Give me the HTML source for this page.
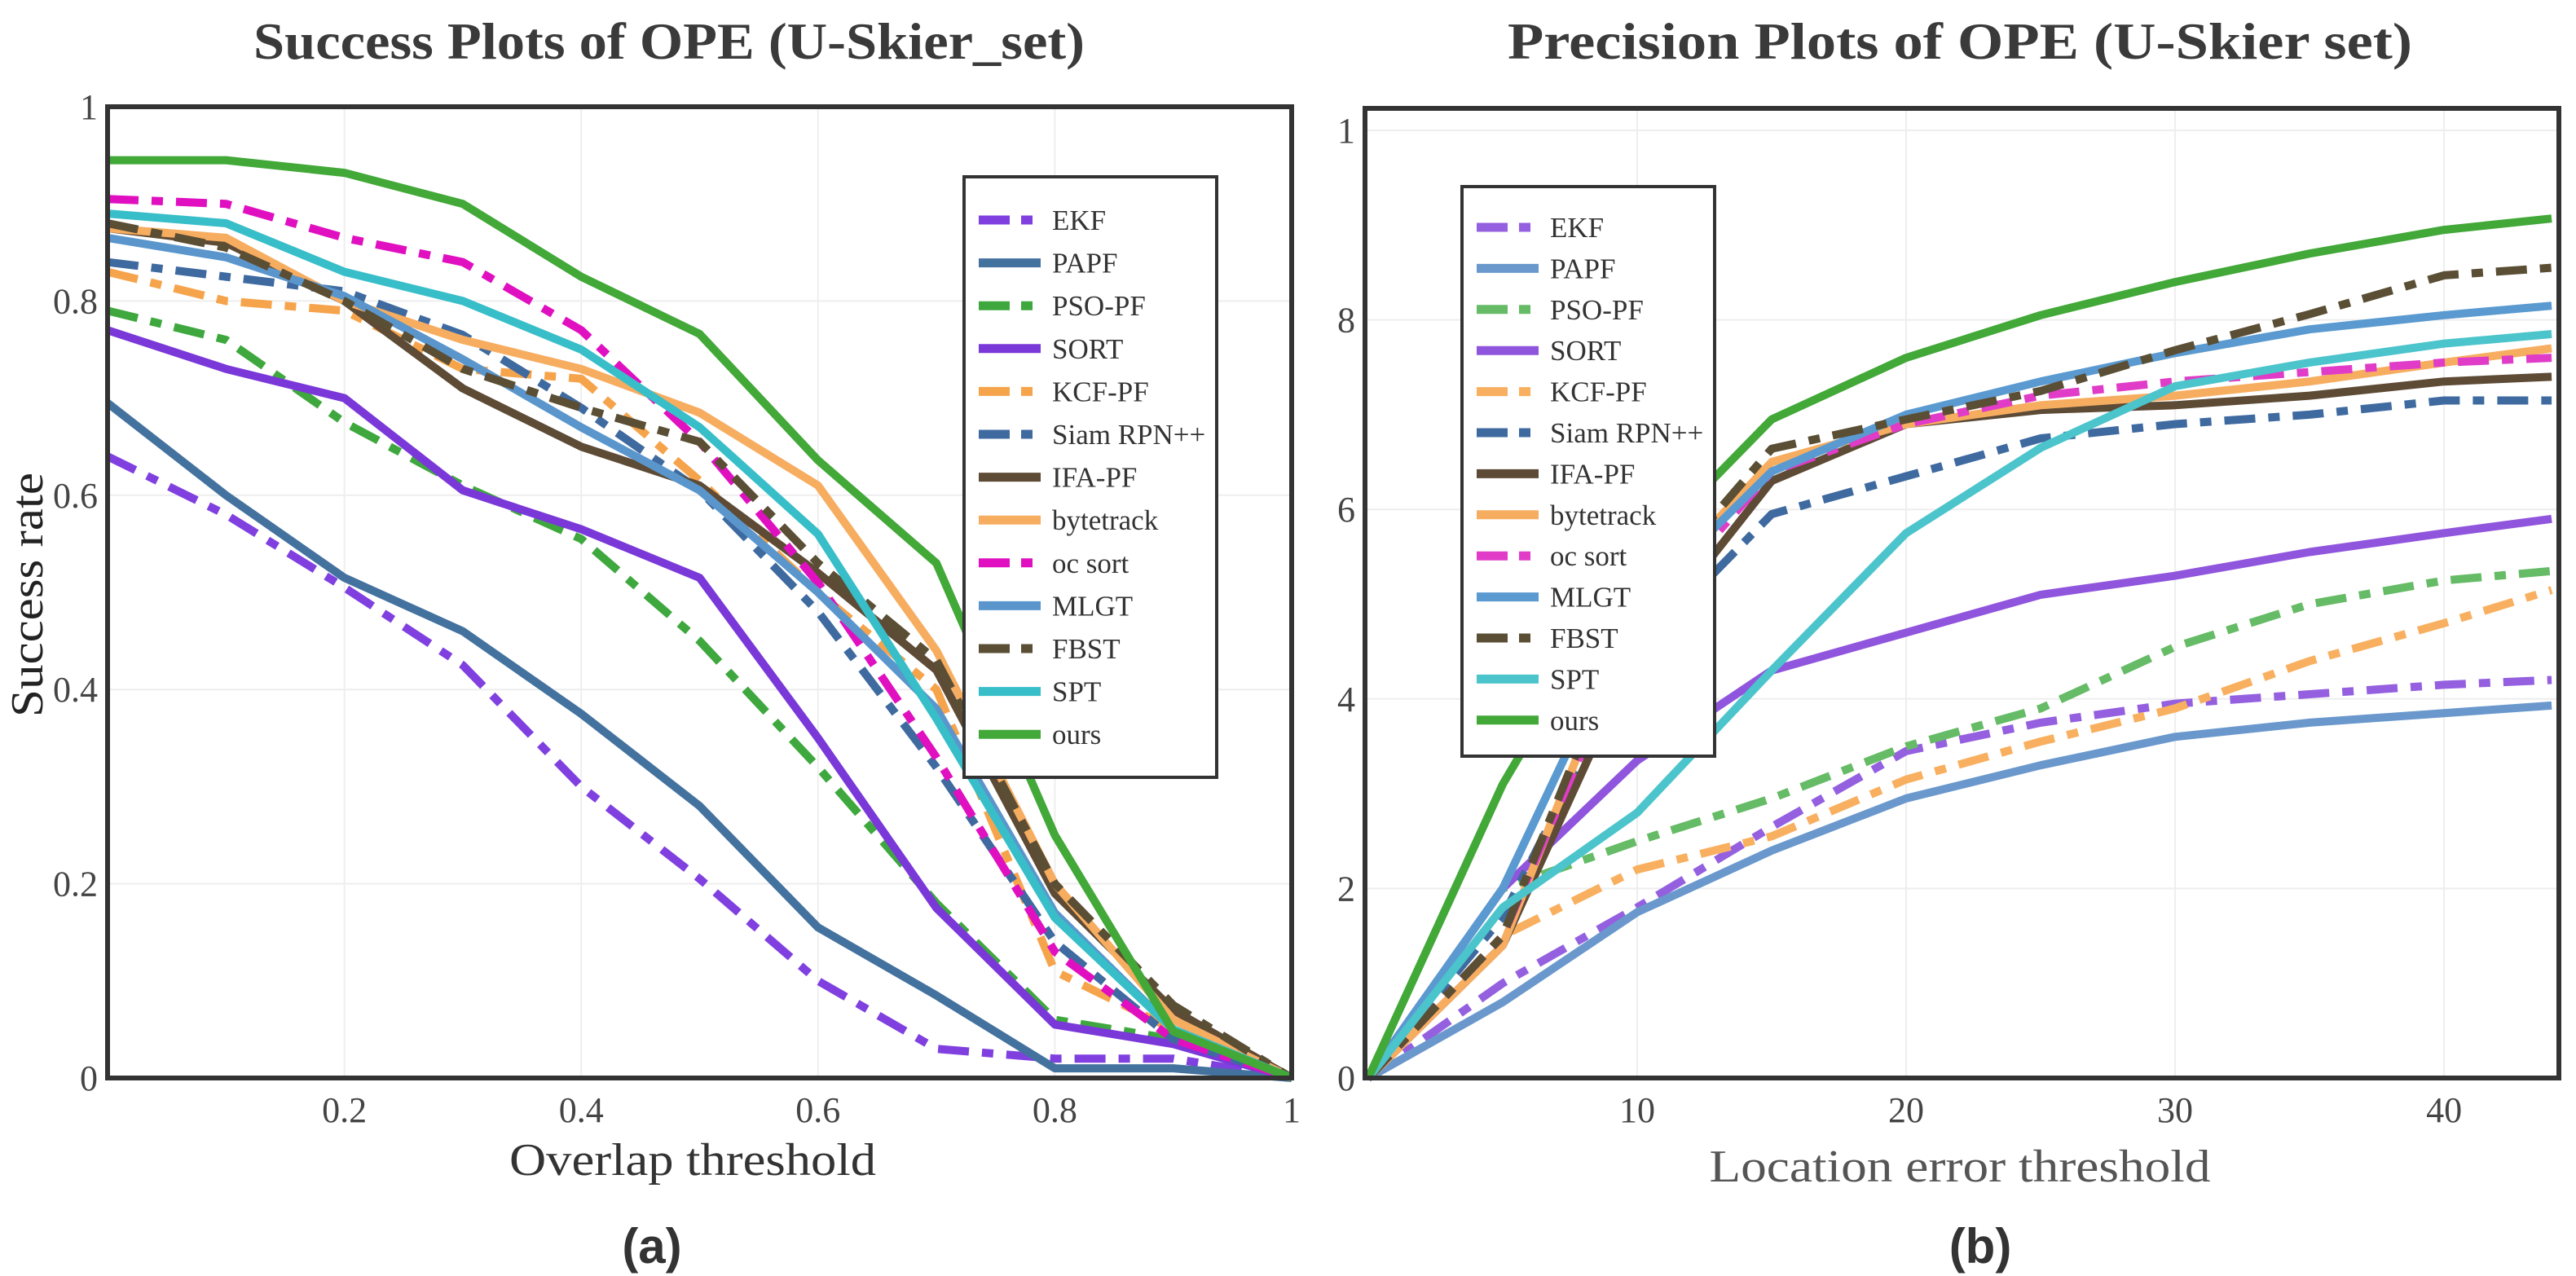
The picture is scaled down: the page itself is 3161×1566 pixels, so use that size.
<!DOCTYPE html>
<html><head><meta charset="utf-8">
<style>
html,body{margin:0;padding:0;background:#fff;}
svg{display:block;}
text{font-family:"Liberation Serif","DejaVu Serif",serif;fill:#444;}
</style></head>
<body>
<svg id="fig" width="3161" height="1566" viewBox="0 0 3161 1566" xmlns="http://www.w3.org/2000/svg">
<rect width="3161" height="1566" fill="#fff"/>
<text x="821" y="72" text-anchor="middle" font-size="64" font-weight="bold" textLength="1020" lengthAdjust="spacingAndGlyphs" style="fill:#3a3a3a">Success Plots of OPE (U-Skier_set)</text>
<text x="2405" y="72" text-anchor="middle" font-size="64" font-weight="bold" textLength="1110" lengthAdjust="spacingAndGlyphs" style="fill:#3a3a3a">Precision Plots of OPE (U-Skier set)</text>
<text x="850" y="1442" text-anchor="middle" font-size="56" textLength="450" lengthAdjust="spacingAndGlyphs" style="fill:#333">Overlap threshold</text>
<text x="2405" y="1450" text-anchor="middle" font-size="56" textLength="615" lengthAdjust="spacingAndGlyphs" style="fill:#555">Location error threshold</text>
<text transform="translate(52,730) rotate(-90)" text-anchor="middle" font-size="56" textLength="300" lengthAdjust="spacingAndGlyphs" style="fill:#222">Success rate</text>
<text x="800" y="1550" text-anchor="middle" font-size="60" font-weight="bold" style="font-family:'Liberation Sans',sans-serif;fill:#333">(a)</text>
<text x="2430" y="1550" text-anchor="middle" font-size="60" font-weight="bold" style="font-family:'Liberation Sans',sans-serif;fill:#333">(b)</text>
<g id="left"></g>
<g id="right"></g>
</svg>
<script>
const names = ["EKF","PAPF","PSO-PF","SORT","KCF-PF","Siam RPN++","IFA-PF","bytetrack","oc sort","MLGT","FBST","SPT","ours"];
const dashed = [true,false,true,false,true,true,false,false,true,false,true,false,false];
const colorsL = ["#8040e0","#44729f","#3ea83e","#7a38d8","#f6a44c","#3f6aa0","#5e4b36","#f7ad60","#e010c0","#5a96cc","#5a4e34","#38bec8","#42a838"];
const colorsR = ["#9460e0","#6a98cc","#66bb66","#9055dd","#f8b060","#3f6aa0","#5e4b36","#f7ad60","#e03cc8","#5a9ad0","#5a4e34","#4cc4cc","#42a838"];
// Success plot
const xsL = [0,0.1,0.2,0.3,0.4,0.5,0.6,0.7,0.8,0.9,1];
const succEKF  = [.64,.58,.505,.425,.30,.205,.10,.03,.02,.02,0];
const succPAPF = [.695,.60,.515,.46,.375,.28,.155,.085,.01,.01,0];
const succPSO  = [.79,.76,.675,.61,.555,.45,.32,.18,.06,.04,0];
const succSORT = [.77,.73,.70,.605,.565,.515,.35,.175,.055,.035,0];
const succKCF  = [.83,.80,.79,.73,.72,.615,.50,.40,.11,.05,0];
const succSiam = [.84,.825,.81,.765,.69,.605,.48,.32,.14,.04,0];
const succIFA  = [.875,.86,.80,.71,.65,.61,.52,.42,.19,.07,0];
const succByte = [.875,.865,.80,.76,.73,.685,.61,.44,.20,.06,0];
const succOC   = [.905,.90,.865,.84,.77,.655,.51,.33,.13,.04,0];
const succMLGT = [.865,.845,.805,.74,.67,.605,.50,.38,.17,.05,0];
const succFBST = [.88,.855,.80,.73,.69,.655,.53,.43,.20,.075,0];
const succSPT  = [.89,.88,.83,.80,.75,.67,.56,.37,.165,.05,0];
const succOurs = [.945,.945,.932,.90,.825,.766,.636,.53,.25,.048,0];
const xTicksL = [0.2,0.4,0.6,0.8,1];
const yTicksL = [0,0.2,0.4,0.6,0.8,1];
const yTickLabL = ["0","0.2","0.4","0.6","0.8","1"];
// Precision plot
const xsR = [0,5,10,15,20,25,30,35,40,44];
const precEKF  = [0,.10,.18,.265,.345,.375,.395,.405,.415,.42];
const precPAPF = [0,.08,.175,.24,.295,.33,.36,.375,.385,.393];
const precPSO  = [0,.20,.25,.295,.35,.39,.455,.50,.525,.535];
const precSORT = [0,.20,.335,.43,.47,.51,.53,.555,.575,.59];
const precKCF  = [0,.15,.22,.255,.315,.355,.39,.44,.48,.515];
const precSiam = [0,.17,.45,.595,.635,.675,.69,.70,.715,.715];
const precIFA  = [0,.14,.45,.63,.69,.705,.71,.72,.735,.74];
const precByte = [0,.14,.50,.65,.69,.71,.72,.735,.755,.77];
const precOC   = [0,.15,.48,.64,.69,.72,.735,.745,.755,.76];
const precMLGT = [0,.20,.50,.64,.70,.735,.765,.79,.805,.815];
const precFBST = [0,.15,.50,.664,.695,.725,.768,.806,.847,.855];
const precSPT  = [0,.18,.28,.43,.575,.665,.73,.755,.775,.785];
const precOurs = [0,.31,.55,.695,.76,.805,.84,.87,.895,.907];
const xTicksR = [10,20,30,40];
const yTicksR = [0,0.2,0.4,0.6,0.8,1];
const yTickLabR = ["0","2","4","6","8","1"];

const succ = [succEKF,succPAPF,succPSO,succSORT,succKCF,succSiam,succIFA,succByte,succOC,succMLGT,succFBST,succSPT,succOurs];
const prec = [precEKF,precPAPF,precPSO,precSORT,precKCF,precSiam,precIFA,precByte,precOC,precMLGT,precFBST,precSPT,precOurs];
const NS="http://www.w3.org/2000/svg";
function mk(tag,attrs,parent){const e=document.createElementNS(NS,tag);for(const k in attrs)e.setAttribute(k,attrs[k]);parent.appendChild(e);return e;}

function plot(g,cfg){
  const sx=v=>cfg.x0+(v-cfg.xmin)/(cfg.xmax-cfg.xmin)*(cfg.x1-cfg.x0);
  const sy=v=>cfg.y0-(v)/(1)*(cfg.y0-cfg.y1);
  cfg.xt.forEach(t=>{const l=mk('line',{x1:sx(t),x2:sx(t),y1:cfg.top,y2:cfg.y0,stroke:'#eee','stroke-width':2},g);
    
    
    const tx=mk('text',{x:sx(t),y:cfg.y0+54,'text-anchor':'middle','font-size':44},g);tx.textContent=String(t);
    
    
  });
  cfg.yt.forEach((t,i)=>{const l=mk('line',{x1:cfg.left,x2:cfg.right,y1:sy(t),y2:sy(t),stroke:'#eee','stroke-width':2},g);
    
    
    const tx=mk('text',{x:cfg.left-12,y:sy(t)+15,'text-anchor':'end','font-size':44},g);tx.textContent=cfg.ytl[i];
    
    
  });
  cfg.data.forEach((arr,i)=>{
    const pts=arr.map((v,j)=>sx(cfg.xs[j]).toFixed(1)+','+sy(v).toFixed(1)).join(' ');
    const p=mk('polyline',{points:pts,fill:'none',stroke:cfg.colors[i],'stroke-width':10,'stroke-linejoin':'round'},g);
    if(dashed[i])p.setAttribute('stroke-dasharray','38 16 14 16');
    
    
  });
  const fr=mk('rect',{x:cfg.left,y:cfg.top,width:cfg.right-cfg.left,height:cfg.y0-cfg.top,fill:'none',stroke:'#333','stroke-width':6},g);
  
  
  const L=cfg.leg;
  const lg=mk('g',{},g);
  
  
  mk('rect',{x:L.x,y:L.y,width:L.w,height:L.h,fill:'#fff',stroke:'#333','stroke-width':4},lg);
  names.forEach((n,i)=>{
    const yy=L.y+L.first+i*L.step;
    const e=mk('g',{},lg);
    
    
    const ln=mk('line',{x1:L.x+18,x2:L.x+94,y1:yy,y2:yy,stroke:cfg.colors[i],'stroke-width':11},e);
    if(dashed[i])ln.setAttribute('stroke-dasharray','38 14 14 30');
    const t=mk('text',{x:L.x+108,y:yy+12,'font-size':35,style:'fill:#333'},e);t.textContent=n;
  });
}
plot(document.getElementById('left'),{left:132,right:1585,top:131,x0:132,x1:1585,xmin:0,xmax:1,y0:1323,y1:131,
  xs:xsL,data:succ,colors:colorsL,xt:xTicksL,yt:yTicksL,ytl:yTickLabL,
  leg:{x:1183,y:217,w:310,h:737,first:53,step:52.6}});
plot(document.getElementById('right'),{left:1675,right:3140,top:133,x0:1679,x1:3140,xmin:0,xmax:44.27,y0:1323,y1:160,
  xs:xsR,data:prec,colors:colorsR,xt:xTicksR,yt:yTicksR,ytl:yTickLabR,
  leg:{x:1794,y:229,w:310,h:699,first:50,step:50.4}});
</script>
</body></html>
